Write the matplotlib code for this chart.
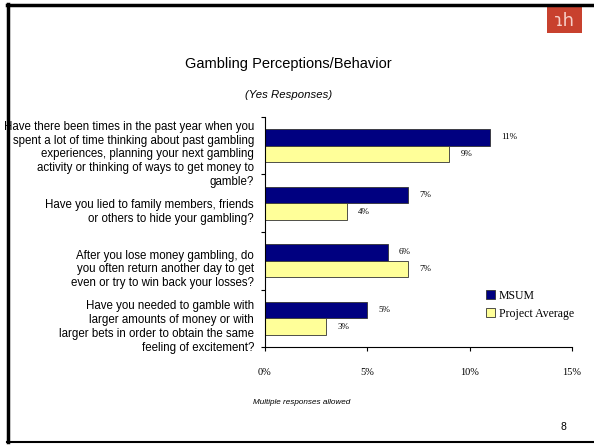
import numpy as np
import matplotlib.pyplot as plt
from matplotlib.lines import Line2D
from matplotlib.patches import Rectangle

questions = [
    "Have there been times in the past year when you\nspent a lot of time thinking about past gambling\nexperiences, planning your next gambling\nactivity or thinking of ways to get money to\ngamble?",
    "Have you lied to family members, friends\nor others to hide your gambling?",
    "After you lose money gambling, do\nyou often return another day to get\neven or try to win back your losses?",
    "Have you needed to gamble with\nlarger amounts of money or with\nlarger bets in order to obtain the same\nfeeling of excitement?",
]
msum = [11, 7, 6, 5]
project_avg = [9, 4, 7, 3]
series_names = ["MSUM", "Project Average"]
xticks = [0, 5, 10, 15]

fig = plt.figure(figsize=(5.94, 4.45), dpi=100)
fig.patch.set_facecolor("white")

# slide frame (left, top, bottom)
W, H = 594, 445
def fx(px):
    return px / W
def fy(py):
    return 1 - py / H
fig.add_artist(Line2D([fx(8), fx(8)], [fy(4), fy(442)], color="black", lw=2.5))
fig.add_artist(Line2D([fx(7), 1], [fy(4.5), fy(4.5)], color="black", lw=2.5))
fig.add_artist(Line2D([fx(7), 1], [fy(442), fy(442)], color="black", lw=1.5))

# logo block
fig.add_artist(Rectangle((fx(547), fy(33)), fx(582) - fx(547), fy(6) - fy(33),
                         transform=fig.transFigure, facecolor="#C8412E", edgecolor="none"))
fig.text(fx(564.5), fy(21), "ɿh", color="#F6CFC8", fontsize=13, ha="center", va="center",
         family="DejaVu Sans")

fig.text(fx(288), fy(64), "Gambling Perceptions/Behavior", ha="center", va="center",
         fontsize=10.5, family="Liberation Sans")
fig.text(fx(289), fy(95), "(Yes Responses)", ha="center", va="center",
         fontsize=8.2, style="italic", family="Liberation Sans")
fig.text(fx(302), fy(402), "Multiple responses allowed", ha="center", va="center",
         fontsize=5.9, style="italic", family="Liberation Sans")
fig.text(fx(563), fy(427), "8", ha="center", va="center", fontsize=7.5, family="Liberation Sans")

ax = fig.add_axes([fx(265), fy(347), fx(572) - fx(265), fy(117) - fy(347)])
y = np.arange(len(questions))
h = 0.29
ax.barh(y - h / 2, msum, height=h, color="#000080", edgecolor="#333333", lw=0.6, label=series_names[0])
ax.barh(y + h / 2, project_avg, height=h, color="#FFFF99", edgecolor="#333333", lw=0.6, label=series_names[1])

for yi, v in zip(y, msum):
    ax.text(v + 0.55, yi - h / 2, f"{v}%", va="center", ha="left", fontsize=6.5,
            family="Liberation Serif")
for yi, v in zip(y, project_avg):
    ax.text(v + 0.55, yi + h / 2, f"{v}%", va="center", ha="left", fontsize=6.5,
            family="Liberation Serif")

ax.set_xlim(0, 15)
ax.set_ylim(3.5, -0.5)
ax.set_xticks(xticks)
ax.set_xticklabels([f"{t}%" for t in xticks], family="Liberation Serif", fontsize=7.5)
ax.set_yticks(np.arange(-0.5, 4, 1), minor=False)
ax.set_yticklabels([])
# question text sits slightly below the middle of each bar pair
ax.set_yticks(y + 0.11, minor=True)
ax.set_yticklabels(questions, minor=True, fontsize=8.3, family="Liberation Sans", linespacing=1.2)
ax.tick_params(axis="y", which="minor", length=0, pad=8)
ax.tick_params(axis="y", which="major", length=3, direction="out")
ax.tick_params(axis="x", length=3, direction="out", pad=12)
for s in ["top", "right"]:
    ax.spines[s].set_visible(False)

leg = ax.legend(loc="lower right", bbox_to_anchor=(1.04, 0.072), frameon=False,
                prop={"family": "Liberation Serif", "size": 8.5},
                handlelength=0.75, handleheight=0.75, handletextpad=0.3, labelspacing=0.5)

fig.savefig("out.png", dpi=100, facecolor="white")
